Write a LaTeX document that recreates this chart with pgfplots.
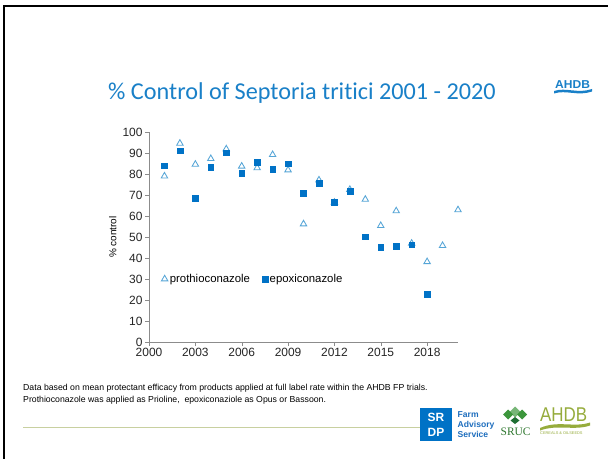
\documentclass[border=0pt]{standalone}
\usepackage{pgfplots}
\pgfplotsset{compat=1.18}
\usepackage{fontspec}
\setmainfont{Liberation Sans}
\newfontfamily\calibri[Ligatures=NoCommon]{Carlito}
\newfontfamily\timesfont{Liberation Serif}

\definecolor{titleblue}{RGB}{25,128,200}
\definecolor{sqblue}{RGB}{0,114,198}
\definecolor{triblue}{RGB}{85,165,215}
\definecolor{axgray}{RGB}{140,140,140}
\definecolor{olivegreen}{RGB}{150,172,60}
\definecolor{srucgreen}{RGB}{60,150,60}
\definecolor{srucdark}{RGB}{30,110,50}
\definecolor{rulecol}{RGB}{200,208,160}
\definecolor{fasblue}{RGB}{30,110,190}

\begin{document}
\begin{tikzpicture}[x=1bp,y=-1bp]
\path[use as bounding box] (0,0) rectangle (608,459);
\fill[white] (0,0) rectangle (608,459);
\draw[line width=2.2bp] (4.3,459) -- (4.3,5.7) -- (608,5.7);

% title
\node[font=\calibri\fontsize{24.3}{28}\selectfont, text=titleblue, anchor=base, inner sep=0pt]
  at (302,100) {\% Control of Septoria tritici 2001 - 2020};

% small AHDB logo top right
\node[font=\bfseries\fontsize{11.5}{12}\selectfont, text=titleblue, anchor=base west, inner sep=0pt, xscale=1.05]
  at (555,88.3) {AHDB};
\fill[titleblue] (554,91) .. controls (566,87) and (578,94) .. (592,89) -- (592,91.5)
  .. controls (578,96.5) and (566,89.5) .. (554,93.5) -- cycle;

\begin{axis}[
  at={(149bp,-342bp)}, anchor=south west,
  scale only axis, width=309bp, height=210bp,
  xmin=2000, xmax=2020, ymin=0, ymax=100,
  axis x line=bottom, axis y line=left,
  axis line style={axgray, -},
  xtick={2000,2003,...,2018}, ytick={0,10,...,100},
  tick align=outside, major tick length=4bp,
  tick style={axgray},
  /pgf/number format/assume math mode=true,
  xticklabel style={/pgf/number format/1000 sep={}, yshift=1bp},
  yticklabel style={xshift=1bp},
  tick label style={font=\fontsize{12}{13}\selectfont, text=black!85},
  ylabel={\% control},
  ylabel style={at={(axis description cs:-0.117,0.5)}, anchor=center,
    font=\fontsize{10}{11}\selectfont},
  legend style={at={(axis cs:2000.6,30)}, anchor=west, draw=none, fill=none,
    legend columns=2, font=\fontsize{11.4}{12}\selectfont,
    /tikz/every even column/.append style={column sep=10bp}},
  legend cell align=left,
]
\addplot[only marks, mark=triangle, mark size=3.7bp, triblue, mark options={line width=0.85bp}]
  coordinates {
  (2001,79.0) (2002,94.6) (2003,84.6) (2004,87.3) (2005,91.9) (2006,83.7)
  (2007,82.9) (2008,89.2) (2009,81.9) (2010,56.2) (2011,77.1) (2012,66.5)
  (2013,72.6) (2014,67.9) (2015,55.4) (2016,62.4) (2017,47.0) (2018,38.2)
  (2019,45.9) (2020,62.9)};
\addlegendentry{prothioconazole}
\addplot[only marks, mark=square*, mark size=2.85bp, sqblue]
  coordinates {
  (2001,83.9) (2002,91.1) (2003,68.6) (2004,83.3) (2005,90.1) (2006,80.3)
  (2007,85.6) (2008,82.4) (2009,84.9) (2010,70.8) (2011,75.7) (2012,66.5)
  (2013,71.8) (2014,50.2) (2015,45.1) (2016,45.7) (2017,46.3) (2018,22.9)};
\addlegendentry{epoxiconazole}
\end{axis}

% footnote
\node[anchor=base west, inner sep=0pt, font=\fontsize{8.75}{10}\selectfont] at (23,390)
  {Data based on mean protectant efficacy from products applied at full label rate within the AHDB FP trials.};
\node[anchor=base west, inner sep=0pt, font=\fontsize{8.75}{10}\selectfont] at (23,402.5)
  {Prothioconazole was applied as Prioline,\ \ epoxiconaziole as Opus or Bassoon.};
\draw[rulecol, line width=0.8bp] (23,427.5) -- (420,427.5);

% SRDP Farm Advisory Service logo
\fill[sqblue] (420,408) rectangle (452,441);
\node[font=\bfseries\fontsize{12}{12}\selectfont, text=white, inner sep=0pt] at (436,417) {SR};
\node[font=\bfseries\fontsize{12}{12}\selectfont, text=white, inner sep=0pt] at (436,432.5) {DP};
\node[anchor=base west, inner sep=0pt, font=\bfseries\fontsize{8.6}{9}\selectfont, text=fasblue] at (457.5,417) {Farm};
\node[anchor=base west, inner sep=0pt, font=\bfseries\fontsize{8.6}{9}\selectfont, text=fasblue] at (457.5,427) {Advisory};
\node[anchor=base west, inner sep=0pt, font=\bfseries\fontsize{8.6}{9}\selectfont, text=fasblue] at (457.5,437) {Service};

% SRUC logo
\fill[srucgreen!70] (515,406.5) -- (520.5,412) -- (515,417.5) -- (509.5,412) -- cycle;
\fill[srucgreen] (508,409.5) -- (513,414.5) -- (508,419.5) -- (503,414.5) -- cycle;
\fill[srucgreen] (522,409.5) -- (527,414.5) -- (522,419.5) -- (517,414.5) -- cycle;
\fill[srucdark] (515,417) -- (519.5,420.5) -- (515,424) -- (510.5,420.5) -- cycle;
\node[anchor=base west, inner sep=0pt, font=\timesfont\fontsize{11.5}{12}\selectfont, text=srucgreen!80!black] at (500.5,435) {SRUC};

% AHDB cereals logo
\node[anchor=base west, inner sep=0pt, font=\fontsize{20}{20}\selectfont, text=olivegreen, xscale=0.85] at (540,421.5) {AHDB};
\fill[olivegreen] (540,428) .. controls (558,420) and (574,428) .. (590,422.5) -- (590,425.5)
  .. controls (574,431) and (558,424) .. (540,430.5) -- cycle;
\node[anchor=base west, inner sep=0pt, font=\fontsize{3.9}{4}\selectfont, text=olivegreen] at (540,434.5) {CEREALS \& OILSEEDS};
\end{tikzpicture}
\end{document}
